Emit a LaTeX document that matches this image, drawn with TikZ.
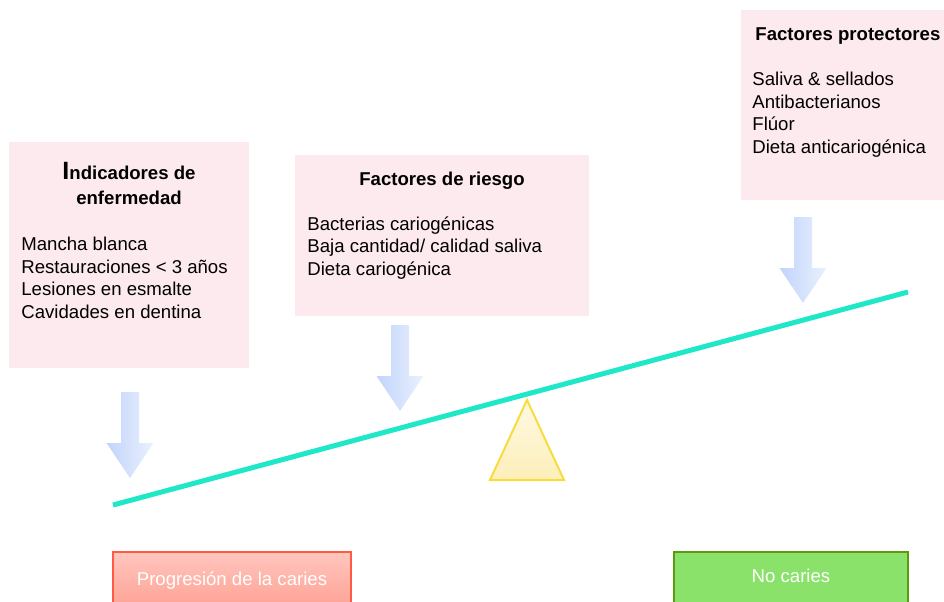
\documentclass[tikz,border=0pt]{standalone}
\usepackage{fontspec}
\setmainfont{Liberation Sans}
\usepackage{tikz}
\usetikzlibrary{calc,positioning}
\definecolor{boxpink}{RGB}{252,234,238}
\definecolor{arrowblue}{RGB}{194,212,251}
\definecolor{arrowpale}{RGB}{234,241,254}
\definecolor{beamcyan}{RGB}{30,232,200}
\definecolor{fulcrumtop}{RGB}{254,249,226}
\definecolor{fulcrumbot}{RGB}{253,239,186}
\definecolor{fulcrumline}{RGB}{248,220,60}
\definecolor{cariestop}{RGB}{255,198,190}
\definecolor{cariesbot}{RGB}{255,140,124}
\definecolor{cariesline}{RGB}{255,90,68}
\definecolor{healthy}{RGB}{138,226,106}
\definecolor{healthyline}{RGB}{92,154,14}

\begin{document}
\begin{tikzpicture}[x=0.5pt,y=-0.5pt,
    every node/.style={font=\fontsize{9.3}{11.2}\selectfont, inner sep=0pt},
    boxtitle/.style={font=\fontsize{9.3}{12.2}\selectfont\bfseries, align=center, anchor=base},
    itemlist/.style={align=left, anchor=base west},
    outcome/.style={text=white, anchor=base}]
      \useasboundingbox (0,0) rectangle (944,601);
      \clip (0,0) rectangle (944,601);
      % Draw the boxes
      \fill[boxpink] (9,142) rectangle (249,368);
      \fill[boxpink] (295,155) rectangle (589,316);
      \fill[boxpink] (741,10) rectangle (944,200);
      % titles (base = last line)
      \node[boxtitle] (disease) at (129,204) {{\fontsize{12.5}{12.2}\selectfont I}ndicadores de\\enfermedad};
      \node[boxtitle] (risk) at (442,185) {Factores de riesgo};
      \node[boxtitle, anchor=base west] (protect) at (755,40) {Factores protectores};
      % lists
      \node[itemlist] (diseaselist) at (21,318) {Mancha blanca\\Restauraciones < 3 años\\Lesiones en esmalte\\Cavidades en dentina};
      \node[itemlist] (risklist) at (307,275) {Bacterias cariogénicas\\Baja cantidad/ calidad saliva\\Dieta cariogénica};
      \node[itemlist] (protectlist) at (752,153) {Saliva \& sellados\\Antibacterianos\\Flúor\\Dieta anticariogénica};
      % push arrows
      \foreach \tx/\ty in {130/478, 400/411, 803/303}
        \shade[left color=arrowblue, right color=arrowpale]
          (\tx-9,\ty-86) -- (\tx+9,\ty-86) -- (\tx+9,\ty-35) -- (\tx+23.5,\ty-35)
          -- (\tx,\ty) -- (\tx-23.5,\ty-35) -- (\tx-9,\ty-35) -- cycle;
      % fulcrum
      \shade[top color=fulcrumtop, bottom color=fulcrumbot, draw=fulcrumline, line width=1pt]
        (527,400) -- (564,480) -- (490,480) -- cycle;
      % beam
      \coordinate (beamL) at (113,505);
      \coordinate (beamR) at (908,292);
      \draw[beamcyan, line width=2.5pt] (beamL) -- (beamR);
      % outcomes
      \shade[top color=cariestop, bottom color=cariesbot, draw=cariesline, line width=0.75pt]
        (113,552) rectangle (351,640);
      \node[outcome] (caries) at (232,585) {Progresión de la caries};
      \filldraw[fill=healthy, draw=healthyline, line width=0.75pt] (674,552) rectangle (908,640);
      \node[outcome] (nocaries) at (791,582) {No caries};
    \end{tikzpicture}
\end{document}
